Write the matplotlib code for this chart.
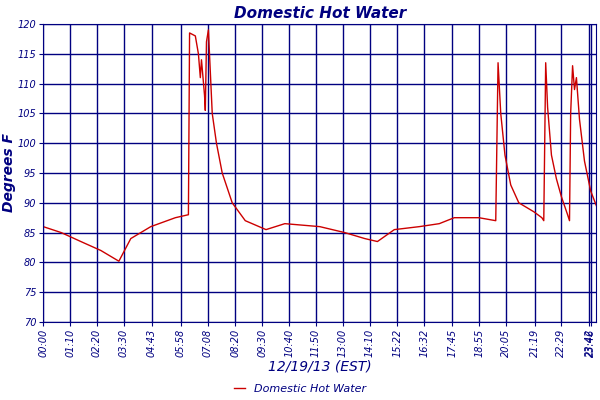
import matplotlib
matplotlib.use("Agg")
import matplotlib.pyplot as plt

times = [0, 47, 98, 150, 197, 228, 280, 344, 378, 381, 396, 404, 409, 412, 420, 422, 425, 430, 435, 440,
         451, 466, 492, 526, 580, 629, 720, 785, 837, 870, 914, 979, 1031, 1070, 1134, 1178, 1184, 1191,
         1202, 1217, 1238, 1277, 1298, 1303, 1308, 1313, 1323, 1336, 1349, 1365, 1370, 1373, 1378, 1383,
         1388, 1396, 1409, 1425, 1440]
temps = [86, 85, 83.5, 82, 80.2, 84, 86, 87.5, 88, 118.5, 118, 115, 111, 114, 108, 105.5, 117, 119, 112, 105,
         100, 95, 90, 87, 85.5, 86.5, 86, 85, 84, 83.5, 85.5, 86, 86.5, 87.5, 87.5, 87, 113.5, 105,
         98, 93, 90, 88.5, 87.5, 87, 113.5, 106, 98, 94, 91, 88, 87, 105, 113, 109,
         111, 104, 97, 92, 89.5]
tick_minutes = [0, 70, 140, 210, 283, 358, 428, 500, 570, 640, 710, 780, 850, 922, 992, 1065, 1135, 1205,
                1279, 1349, 1422, 1426]
tick_labels = ["00:00", "01:10", "02:20", "03:30", "04:43", "05:58", "07:08", "08:20", "09:30", "10:40",
               "11:50", "13:00", "14:10", "15:22", "16:32", "17:45", "18:55", "20:05", "21:19", "22:29",
               "23:42", "23:46"]
y_ticks = [70, 75, 80, 85, 90, 95, 100, 105, 110, 115, 120]

navy = "#000080"
fig = plt.figure(figsize=(6, 4), dpi=100)
ax = fig.add_axes([0.072, 0.195, 0.922, 0.745])
ax.plot(times, temps, color="#cc0000", lw=1, label="Domestic Hot Water")
ax.set_xlim(0, 1440)
ax.set_ylim(70, 120)
ax.set_xticks(tick_minutes)
ax.set_xticklabels(tick_labels, rotation=90, fontsize=7, color=navy, style="italic")
ax.set_yticks(y_ticks)
ax.set_yticklabels([str(v) for v in y_ticks], fontsize=7, color=navy, style="italic")
ax.grid(True, color=navy, lw=1)
for s in ax.spines.values():
    s.set_color(navy)
ax.tick_params(colors=navy, length=3, pad=2)
ax.set_title("Domestic Hot Water", color=navy, fontsize=11, fontweight="bold", style="italic", pad=4)
ax.set_ylabel("Degrees F", color=navy, fontsize=10, fontweight="bold", style="italic", labelpad=1)
ax.set_xlabel("12/19/13 (EST)", color=navy, fontsize=10, style="italic", labelpad=2)
leg = fig.legend(loc="lower center", bbox_to_anchor=(0.5, -0.01), frameon=False, fontsize=8, handlelength=1)
for t in leg.get_texts():
    t.set_color(navy); t.set_style("italic")
fig.savefig("out.png")
